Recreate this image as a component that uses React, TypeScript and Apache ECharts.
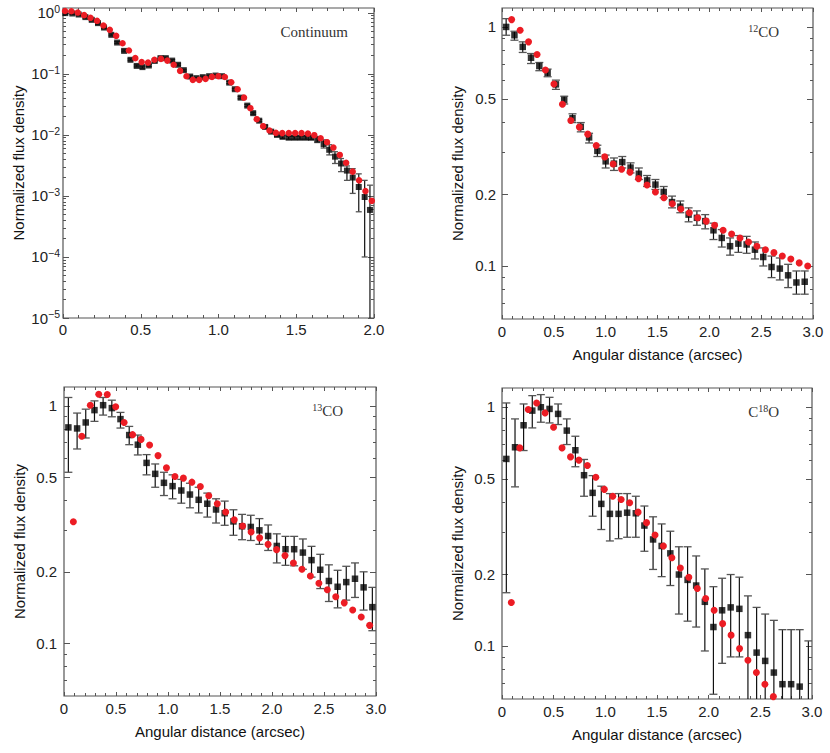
import React, { useEffect, useRef } from "react";
import * as echarts from "echarts";

const SANS = '"Liberation Sans", Arial, Helvetica, sans-serif';
const SERIF = '"Liberation Serif", "Times New Roman", serif';
const RED = "#ec1c24";
const FRAME = "#555";

// ---------- Panel 1: Continuum ----------
const contModelX = [0.013, 0.054, 0.095, 0.136, 0.177, 0.219, 0.26, 0.301, 0.342, 0.383, 0.424, 0.465, 0.506, 0.547, 0.588, 0.63, 0.671, 0.712, 0.753, 0.794, 0.835, 0.876, 0.917, 0.958, 0.999, 1.041, 1.082, 1.123, 1.164, 1.205, 1.246, 1.287, 1.328, 1.369, 1.41, 1.452, 1.493, 1.534, 1.575, 1.616, 1.657, 1.698, 1.739, 1.78, 1.821, 1.863, 1.904, 1.945, 1.986];
const contModel = [1.07, 1.06, 1.01, 0.916, 0.828, 0.74, 0.619, 0.526, 0.42, 0.318, 0.241, 0.181, 0.156, 0.153, 0.17, 0.176, 0.165, 0.141, 0.112, 0.0916, 0.0798, 0.0798, 0.0828, 0.0893, 0.0916, 0.089, 0.073, 0.056, 0.0408, 0.0274, 0.0181, 0.0139, 0.0118, 0.0108, 0.0107, 0.0107, 0.0107, 0.0107, 0.0105, 0.0099, 0.0088, 0.0076, 0.0062, 0.0047, 0.0035, 0.0025, 0.0018, 0.0012, 0.00083];
const contObsX = [0.015, 0.06, 0.101, 0.144, 0.185, 0.225, 0.264, 0.311, 0.348, 0.393, 0.434, 0.474, 0.511, 0.552, 0.59, 0.627, 0.661, 0.702, 0.74, 0.777, 0.818, 0.858, 0.899, 0.94, 0.981, 1.022, 1.069, 1.105, 1.142, 1.185, 1.223, 1.262, 1.3, 1.339, 1.376, 1.412, 1.451, 1.487, 1.524, 1.562, 1.596, 1.635, 1.676, 1.712, 1.749, 1.788, 1.826, 1.863, 1.902, 1.94, 1.974];
const contObs = [0.989, 0.975, 0.938, 0.851, 0.767, 0.678, 0.574, 0.436, 0.326, 0.238, 0.17, 0.135, 0.129, 0.137, 0.163, 0.181, 0.181, 0.165, 0.141, 0.115, 0.0904, 0.0851, 0.0883, 0.0916, 0.0938, 0.0916, 0.0719, 0.056, 0.0408, 0.0302, 0.0227, 0.0171, 0.0135, 0.0113, 0.01, 0.0093, 0.009, 0.009, 0.009, 0.009, 0.009, 0.0084, 0.0071, 0.0057, 0.0044, 0.0034, 0.0026, 0.002, 0.0014, 0.00096, 0.00059];
const contObsLo = [0.95, 0.94, 0.9, 0.82, 0.74, 0.65, 0.55, 0.42, 0.315, 0.23, 0.164, 0.13, 0.124, 0.132, 0.157, 0.174, 0.174, 0.159, 0.136, 0.111, 0.087, 0.082, 0.085, 0.088, 0.09, 0.088, 0.069, 0.054, 0.039, 0.029, 0.0218, 0.0164, 0.0129, 0.0108, 0.0095, 0.0088, 0.0085, 0.0085, 0.0085, 0.0085, 0.0084, 0.0075, 0.0061, 0.0047, 0.0034, 0.0025, 0.0018, 0.0011, 0.00055, 0.0001, 0.000001];
const contObsHi = [1.03, 1.01, 0.97, 0.88, 0.79, 0.7, 0.59, 0.45, 0.337, 0.246, 0.176, 0.14, 0.134, 0.142, 0.169, 0.188, 0.188, 0.171, 0.146, 0.119, 0.094, 0.088, 0.092, 0.095, 0.097, 0.095, 0.075, 0.058, 0.0425, 0.0315, 0.0236, 0.0178, 0.0141, 0.0118, 0.0105, 0.0098, 0.0095, 0.0095, 0.0095, 0.0096, 0.0097, 0.0094, 0.0083, 0.0069, 0.0053, 0.0041, 0.0031, 0.0028, 0.0023, 0.0018, 0.0015];

// ---------- Panel 2: 12CO ----------
const co12ModelX = [0.093, 0.175, 0.256, 0.338, 0.419, 0.501, 0.583, 0.664, 0.746, 0.827, 0.909, 0.991, 1.072, 1.154, 1.235, 1.317, 1.399, 1.48, 1.562, 1.643, 1.725, 1.807, 1.888, 1.97, 2.051, 2.133, 2.215, 2.296, 2.378, 2.459, 2.541, 2.623, 2.704, 2.786, 2.867, 2.949];
const co12Model = [1.073, 0.968, 0.866, 0.767, 0.66, 0.577, 0.475, 0.406, 0.381, 0.356, 0.319, 0.286, 0.267, 0.254, 0.247, 0.232, 0.218, 0.204, 0.193, 0.182, 0.173, 0.167, 0.159, 0.154, 0.148, 0.141, 0.136, 0.131, 0.126, 0.121, 0.117, 0.1137, 0.11, 0.107, 0.103, 0.1];
const co12ObsX = [0.04, 0.12, 0.2, 0.28, 0.36, 0.44, 0.52, 0.6, 0.68, 0.76, 0.84, 0.92, 1.0, 1.08, 1.16, 1.24, 1.32, 1.4, 1.48, 1.56, 1.64, 1.72, 1.8, 1.88, 1.96, 2.04, 2.12, 2.2, 2.28, 2.36, 2.44, 2.52, 2.6, 2.68, 2.76, 2.84, 2.92];
const co12Obs = [1.0, 0.923, 0.825, 0.743, 0.686, 0.643, 0.575, 0.495, 0.415, 0.382, 0.345, 0.303, 0.274, 0.268, 0.272, 0.258, 0.243, 0.228, 0.219, 0.204, 0.185, 0.177, 0.164, 0.159, 0.154, 0.141, 0.131, 0.121, 0.124, 0.123, 0.117, 0.109, 0.099, 0.0975, 0.0914, 0.0853, 0.0859];
const co12ObsLo = [0.923, 0.88, 0.782, 0.703, 0.656, 0.619, 0.548, 0.476, 0.398, 0.364, 0.327, 0.287, 0.257, 0.251, 0.257, 0.245, 0.23, 0.215, 0.209, 0.193, 0.175, 0.167, 0.153, 0.148, 0.143, 0.129, 0.12, 0.111, 0.114, 0.113, 0.107, 0.1, 0.0894, 0.0874, 0.0812, 0.0762, 0.0762];
const co12ObsHi = [1.083, 0.959, 0.866, 0.774, 0.71, 0.666, 0.599, 0.513, 0.433, 0.398, 0.359, 0.32, 0.291, 0.283, 0.287, 0.27, 0.257, 0.239, 0.23, 0.215, 0.196, 0.187, 0.175, 0.17, 0.164, 0.151, 0.142, 0.131, 0.134, 0.133, 0.126, 0.119, 0.11, 0.108, 0.1016, 0.0953, 0.0953];

// ---------- Panel 3: 13CO ----------
const co13ModelX = [0.09, 0.171, 0.253, 0.334, 0.416, 0.497, 0.578, 0.66, 0.741, 0.823, 0.904, 0.985, 1.067, 1.148, 1.23, 1.311, 1.392, 1.474, 1.555, 1.637, 1.718, 1.799, 1.881, 1.962, 2.044, 2.125, 2.206, 2.288, 2.369, 2.451, 2.532, 2.613, 2.695, 2.776, 2.858, 2.939];
const co13Model = [0.325, 0.744, 1.006, 1.119, 1.116, 0.99, 0.851, 0.756, 0.722, 0.684, 0.617, 0.548, 0.504, 0.496, 0.477, 0.457, 0.418, 0.387, 0.357, 0.331, 0.312, 0.294, 0.278, 0.261, 0.248, 0.234, 0.218, 0.205, 0.192, 0.179, 0.168, 0.157, 0.148, 0.138, 0.129, 0.119];
const co13ObsX = [0.042, 0.126, 0.209, 0.293, 0.376, 0.46, 0.543, 0.627, 0.71, 0.794, 0.877, 0.961, 1.044, 1.128, 1.211, 1.295, 1.378, 1.462, 1.545, 1.629, 1.712, 1.796, 1.879, 1.963, 2.046, 2.13, 2.213, 2.297, 2.38, 2.464, 2.547, 2.631, 2.714, 2.798, 2.881, 2.965];
const co13Obs = [0.811, 0.803, 0.851, 0.959, 1.006, 0.978, 0.879, 0.753, 0.686, 0.575, 0.517, 0.474, 0.459, 0.44, 0.423, 0.402, 0.387, 0.366, 0.353, 0.326, 0.311, 0.309, 0.299, 0.283, 0.257, 0.249, 0.249, 0.241, 0.224, 0.204, 0.183, 0.173, 0.181, 0.187, 0.172, 0.142];
const co13ObsLo = [0.525, 0.658, 0.732, 0.86, 0.914, 0.899, 0.806, 0.686, 0.621, 0.512, 0.454, 0.419, 0.406, 0.389, 0.372, 0.354, 0.34, 0.321, 0.314, 0.285, 0.273, 0.271, 0.261, 0.246, 0.218, 0.213, 0.212, 0.205, 0.19, 0.17, 0.15, 0.141, 0.152, 0.156, 0.138, 0.113];
const co13ObsHi = [1.084, 0.932, 0.968, 1.049, 1.084, 1.056, 0.938, 0.819, 0.753, 0.623, 0.569, 0.525, 0.512, 0.49, 0.472, 0.454, 0.429, 0.406, 0.397, 0.365, 0.349, 0.346, 0.335, 0.315, 0.289, 0.282, 0.282, 0.275, 0.256, 0.237, 0.214, 0.203, 0.211, 0.218, 0.2, 0.172];

// ---------- Panel 4: C18O ----------
const c18oModelX = [0.09, 0.172, 0.254, 0.335, 0.417, 0.499, 0.581, 0.663, 0.744, 0.826, 0.908, 0.99, 1.072, 1.153, 1.235, 1.317, 1.399, 1.481, 1.562, 1.644, 1.726, 1.808, 1.89, 1.971, 2.053, 2.135, 2.217, 2.299, 2.38, 2.462, 2.544, 2.626];
const c18oModel = [0.152, 0.674, 0.975, 1.039, 0.944, 0.822, 0.674, 0.618, 0.599, 0.569, 0.508, 0.452, 0.423, 0.41, 0.397, 0.363, 0.328, 0.291, 0.262, 0.234, 0.212, 0.194, 0.174, 0.158, 0.141, 0.124, 0.111, 0.0975, 0.0871, 0.0774, 0.0692, 0.0614];
const c18oObsX = [0.042, 0.126, 0.209, 0.293, 0.376, 0.46, 0.543, 0.627, 0.71, 0.794, 0.877, 0.961, 1.044, 1.128, 1.211, 1.295, 1.378, 1.462, 1.545, 1.629, 1.712, 1.796, 1.879, 1.963, 2.046, 2.13, 2.213, 2.297, 2.38, 2.464, 2.547, 2.631, 2.714, 2.798, 2.881, 2.965];
const c18oObs = [0.606, 0.678, 0.838, 0.965, 0.997, 0.981, 0.935, 0.796, 0.659, 0.518, 0.437, 0.393, 0.357, 0.357, 0.361, 0.359, 0.319, 0.279, 0.262, 0.244, 0.199, 0.189, 0.179, 0.153, 0.12, 0.141, 0.145, 0.143, 0.111, 0.0938, 0.0866, 0.0774, 0.0692, 0.0692, 0.0676, 0.05];
const c18oObsLo = [0.167, 0.463, 0.657, 0.817, 0.863, 0.857, 0.844, 0.696, 0.562, 0.423, 0.349, 0.307, 0.275, 0.281, 0.285, 0.285, 0.249, 0.209, 0.195, 0.179, 0.136, 0.127, 0.12, 0.0953, 0.0628, 0.0846, 0.09, 0.09, 0.05, 0.05, 0.05, 0.05, 0.05, 0.05, 0.05, 0.04];
const c18oObsHi = [1.039, 0.891, 1.029, 1.115, 1.126, 1.097, 1.029, 0.891, 0.754, 0.603, 0.516, 0.466, 0.434, 0.434, 0.434, 0.423, 0.385, 0.347, 0.324, 0.302, 0.26, 0.26, 0.238, 0.21, 0.177, 0.192, 0.199, 0.194, 0.162, 0.145, 0.136, 0.128, 0.117, 0.117, 0.117, 0.105];

// ---------- Tick labels ----------
const contYTicks = [1e-5, 1e-4, 1e-3, 1e-2, 1e-1, 1];
const lineYTicks = [0.1, 0.2, 0.5, 1];
const lineYMinor = [0.07, 0.08, 0.09, 0.3, 0.4, 0.6, 0.7, 0.8, 0.9];
const contYMinor: number[] = [];
for (let e = -5; e <= -1; e++) for (let m = 2; m <= 9; m++) contYMinor.push(Number((m * Math.pow(10, e)).toPrecision(3)));

const grids = [
  { left: 63, top: 8, width: 311, height: 310 },
  { left: 502, top: 8, width: 311, height: 311 },
  { left: 64, top: 387, width: 312, height: 309 },
  { left: 502, top: 388, width: 310, height: 311 },
];

const tickStyle = { color: FRAME, width: 1 };
const LABEL_SIZE = 15;

function makeXAxes(g: number, max: number, name: string, margin: number) {
  const common = {
    type: "value", gridIndex: g, min: 0, max, interval: 0.5,
    axisLine: { show: false }, splitLine: { show: false },
    axisTick: { show: true, inside: true, length: 4, lineStyle: tickStyle },
    minorTick: { show: true, splitNumber: 5, length: 3, lineStyle: tickStyle },
  };
  return [
    {
      ...common, position: "bottom",
      axisLabel: {
        show: true, margin, fontSize: LABEL_SIZE, color: "#222", fontFamily: SANS,
        showMinLabel: true, showMaxLabel: true,
        formatter: (v: number) => (v === 0 ? "0" : v.toFixed(1)),
      },
      name, nameLocation: "middle", nameGap: 28, nameMoveOverlap: false,
      nameTextStyle: { fontSize: 15, color: "#111", fontFamily: SANS },
    },
    { ...common, position: "top", axisLabel: { show: false } },
  ];
}

function makeYAxes(g: number, min: number, max: number, ticks: number[], minors: number[], fmt: any, rich: any, margin: number) {
  const base = { type: "log", logBase: 10, gridIndex: g, min, max, axisLine: { show: false }, splitLine: { show: false } };
  return [
    {
      ...base, position: "left",
      axisTick: { show: true, inside: true, length: 6, customValues: ticks, lineStyle: tickStyle },
      axisLabel: { show: true, customValues: ticks, formatter: fmt, margin, fontSize: LABEL_SIZE, color: "#222", fontFamily: SANS, rich },
      name: "Normalized flux density", nameLocation: "middle", nameGap: 37, nameMoveOverlap: false,
      nameTextStyle: { fontSize: 15, color: "#111", fontFamily: SANS },
    },
    { ...base, position: "left", axisTick: { show: true, inside: true, length: 3, customValues: minors, lineStyle: tickStyle }, axisLabel: { show: false } },
    { ...base, position: "right", axisTick: { show: true, inside: true, length: 6, customValues: ticks, lineStyle: tickStyle }, axisLabel: { show: false } },
    { ...base, position: "right", axisTick: { show: true, inside: true, length: 3, customValues: minors, lineStyle: tickStyle }, axisLabel: { show: false } },
  ];
}

const powFmt = (v: number) => {
  const e = Math.round(Math.log10(v));
  return "{b|10}{s|" + (e < 0 ? "\u2212" + -e : String(e)) + "}";
};
const powRich = {
  b: { fontSize: 15, fontFamily: SANS, color: "#222", lineHeight: 19 },
  s: { fontSize: 10.5, fontFamily: SANS, color: "#222", verticalAlign: "top", lineHeight: 12 },
};
const linFmt = (v: number) => {
  const r = Math.round(v * 10) / 10;
  return r >= 1 ? "1" : String(r);
};

function errSeries(p: number, xs: number[], lo: number[], hi: number[], cap: number) {
  return {
    type: "custom", xAxisIndex: 2 * p, yAxisIndex: 4 * p, clip: true, silent: true, z: 2,
    data: xs.map((x, i) => [x, lo[i], hi[i]]),
    encode: { x: 0, y: [1, 2] },
    renderItem: (_params: any, api: any) => {
      const x = api.value(0);
      const a = api.coord([x, api.value(2)]);
      const b = api.coord([x, api.value(1)]);
      return {
        type: "group",
        children: [
          { type: "line", shape: { x1: a[0], y1: a[1], x2: b[0], y2: b[1] }, style: { stroke: "#111", lineWidth: 1.2 } },
          { type: "line", shape: { x1: a[0] - cap, y1: a[1], x2: a[0] + cap, y2: a[1] }, style: { stroke: "#555", lineWidth: 1.3 } },
          { type: "line", shape: { x1: b[0] - cap, y1: b[1], x2: b[0] + cap, y2: b[1] }, style: { stroke: "#555", lineWidth: 1.3 } },
        ],
      };
    },
  };
}

function obsSeries(p: number, xs: number[], ys: number[], size: number) {
  return {
    type: "scatter", xAxisIndex: 2 * p, yAxisIndex: 4 * p, clip: true, silent: true, z: 3,
    symbol: "rect", symbolSize: size,
    itemStyle: { color: "#000" },
    data: xs.map((x, i) => [x, ys[i]]),
  };
}

function modelSeries(p: number, xs: number[], ys: number[], size: number) {
  return {
    type: "scatter", xAxisIndex: 2 * p, yAxisIndex: 4 * p, clip: true, silent: true, z: 4,
    symbol: "circle", symbolSize: size,
    itemStyle: { color: RED, opacity: 1 },
    data: xs.map((x, i) => [x, ys[i]]),
  };
}

function panelLabel(sup: string | null, pre: string, post: string, right: number, y: number) {
  const text = (pre ? "{n|" + pre + "}" : "") + (sup ? "{s|" + sup + "}" : "") + "{n|" + post + "}";
  return {
    type: "text", x: right, y, z: 10, silent: true,
    style: {
      text, align: "right", verticalAlign: "middle",
      rich: {
        n: { fontSize: 15, fontFamily: SERIF, fill: "#333", lineHeight: 18 },
        s: { fontSize: 10, fontFamily: SERIF, fill: "#333", verticalAlign: "top", lineHeight: 12 },
      },
    },
  };
}

const option: any = {
  animation: false,
  backgroundColor: "#fff",
  textStyle: { fontFamily: SANS },
  grid: grids.map((g) => ({ ...g, show: true, borderColor: FRAME, borderWidth: 1.2, backgroundColor: "transparent", containLabel: false, outerBoundsMode: "none" })),
  xAxis: [
    ...makeXAxes(0, 2, "", 4),
    ...makeXAxes(1, 3, "Angular distance (arcsec)", 5),
    ...makeXAxes(2, 3, "Angular distance (arcsec)", 5),
    ...makeXAxes(3, 3, "Angular distance (arcsec)", 5),
  ],
  yAxis: [
    ...makeYAxes(0, 1e-5, 1.2, contYTicks, contYMinor, powFmt, powRich, 3),
    ...makeYAxes(1, 0.06, 1.2, lineYTicks, lineYMinor, linFmt, undefined, 6),
    ...makeYAxes(2, 0.06, 1.2, lineYTicks, lineYMinor, linFmt, undefined, 7),
    ...makeYAxes(3, 0.06, 1.2, lineYTicks, lineYMinor, linFmt, undefined, 7),
  ],
  series: [
    errSeries(0, contObsX, contObsLo, contObsHi, 3),
    obsSeries(0, contObsX, contObs, 6),
    modelSeries(0, contModelX, contModel, 6.5),
    errSeries(1, co12ObsX, co12ObsLo, co12ObsHi, 4),
    obsSeries(1, co12ObsX, co12Obs, 6.5),
    modelSeries(1, co12ModelX, co12Model, 7),
    errSeries(2, co13ObsX, co13ObsLo, co13ObsHi, 4),
    obsSeries(2, co13ObsX, co13Obs, 6.5),
    modelSeries(2, co13ModelX, co13Model, 7),
    errSeries(3, c18oObsX, c18oObsLo, c18oObsHi, 4),
    obsSeries(3, c18oObsX, c18oObs, 6.5),
    modelSeries(3, c18oModelX, c18oModel, 7),
  ],
  graphic: [
    panelLabel(null, "", "Continuum", 348, 32),
    panelLabel("12", "", "CO", 779, 32),
    panelLabel("13", "", "CO", 343, 411),
    panelLabel("18", "C", "O", 779, 412),
  ],
};

export default function App() {
  const ref = useRef<HTMLDivElement>(null);
  useEffect(() => {
    if (!ref.current) return;
    const chart = echarts.init(ref.current, undefined, { renderer: "svg", width: 830, height: 753 });
    chart.setOption(option);
    return () => chart.dispose();
  }, []);
  return <div ref={ref} style={{ position: "fixed", left: 0, top: 0, width: 830, height: 753, background: "#fff" }} />;
}
